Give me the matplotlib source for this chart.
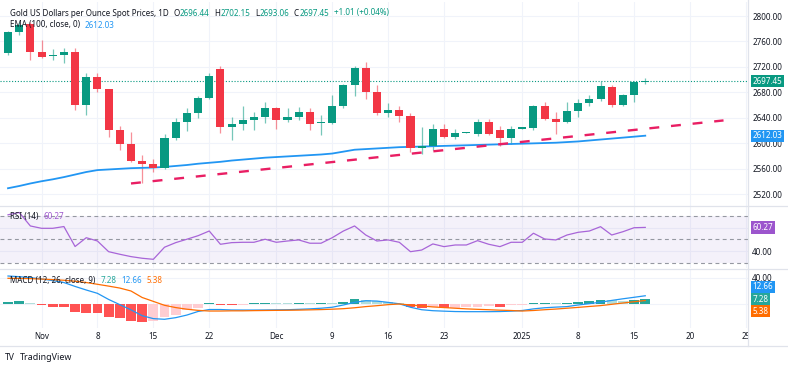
import numpy as np
import matplotlib
matplotlib.use("Agg")
import matplotlib.pyplot as plt
from matplotlib.lines import Line2D
from matplotlib.transforms import Bbox, TransformedBbox

plt.rcParams['font.family'] = ['Noto Sans', 'DejaVu Sans']

# daily bars, Oct 29 2024 -> Jan 16 2025 (bar index = trading day)
opens = [2742, 2775, 2787, 2744, 2736.5, 2738, 2743, 2660, 2704, 2685,
         2621, 2599, 2573, 2567, 2562, 2609, 2633, 2648, 2671, 2716,
         2625, 2631, 2637, 2641, 2655, 2637, 2642, 2650, 2632, 2632,
         2658, 2692, 2718, 2680, 2648, 2652, 2643, 2592, 2596, 2623,
         2610, 2617, 2615, 2634, 2621, 2608, 2623, 2624, 2659, 2639,
         2634, 2651, 2663, 2669, 2689, 2660, 2676, 2696.44]
highs = [2777, 2790, 2790, 2762, 2748, 2750, 2749, 2711, 2711, 2686,
         2627, 2618, 2582, 2575, 2615, 2640, 2655, 2674, 2711, 2721,
         2641, 2658, 2650, 2665, 2657, 2655, 2657, 2655, 2645, 2676,
         2694, 2721, 2727, 2692, 2663, 2658, 2647, 2626, 2631, 2631,
         2622, 2618, 2639, 2638, 2627, 2627, 2625, 2661, 2665, 2649,
         2665, 2670, 2676, 2698, 2692, 2677, 2698, 2702.15]
lows = [2738, 2770, 2731, 2734, 2731, 2726, 2652, 2645, 2681, 2610,
        2590, 2570, 2538, 2555, 2560, 2605, 2619, 2640, 2669, 2616,
        2605, 2621, 2621, 2632, 2622, 2633, 2637, 2621, 2613, 2630,
        2655, 2674, 2669, 2645, 2642, 2634, 2587, 2583, 2590, 2608,
        2607, 2616, 2612, 2613, 2596, 2599, 2622, 2621, 2636, 2615,
        2632, 2642, 2658, 2666, 2657, 2658, 2665, 2693.06]
closes = [2775, 2786, 2744, 2736, 2738, 2743, 2660, 2704, 2685, 2621,
          2599, 2573, 2567, 2562, 2609, 2633, 2648, 2672, 2706, 2625,
          2631, 2637, 2641, 2655, 2637, 2642, 2649, 2630, 2633, 2658,
          2692, 2718, 2680, 2647, 2652, 2643, 2592, 2596, 2623, 2610,
          2617, 2617.5, 2634, 2615, 2608, 2622, 2625, 2659, 2638, 2634,
          2651, 2663, 2669, 2690, 2660, 2676, 2696, 2697.45]

ema100 = [2529.5, 2533, 2537, 2540.5, 2543.5, 2547, 2551, 2555, 2558, 2559,
          2560, 2561, 2561.5, 2562, 2563, 2564.5, 2566, 2568, 2569.5, 2571,
          2573, 2574.5, 2576, 2577.5, 2578.5, 2579.5, 2580.5, 2581.5, 2582.5, 2584,
          2587, 2590, 2591, 2592, 2593, 2594, 2594.5, 2595, 2595.5, 2596,
          2596.5, 2597, 2597.5, 2598, 2598.5, 2599, 2599.5, 2600, 2600.5, 2601,
          2602, 2603, 2604.5, 2606, 2607.5, 2609, 2610.5, 2612.03]

# hand-drawn support trendline (bar index, price)
trend_x = [11, 64]
trend_y = [2537, 2636]

rsi = [71, 73, 61.5, 59.5, 59.5, 61, 44, 51.5, 48.7, 39.6,
       37.4, 35.4, 34, 33.1, 43.4, 47.3, 50.2, 53.2, 57.2, 45.9,
       47.3, 47.6, 47.6, 50.2, 47.6, 48.7, 49.6, 46.8, 46.8, 51.5,
       57.2, 61.5, 53.8, 48.7, 49.6, 47.6, 39.6, 41, 46.2, 43.9,
       45.3, 45.3, 49, 45.9, 43.9, 47.6, 47.6, 55.3, 50.4, 49.6,
       53.8, 56.1, 57.2, 60.9, 53.8, 56.6, 60, 60.27]

macd = [43, 42, 40.5, 38.5, 36, 33, 27, 21.5, 16.4, 7,
        -1, -9, -18, -22.5, -23.5, -21, -17, -11.5, -8.5, -8.5,
        -9.2, -9.3, -9.3, -9.2, -9, -8.8, -8.2, -7.5, -6.5, -5,
        -1.5, 2.5, 5, 4.5, 2.5, 0.3, -5, -8.8, -10.3, -11,
        -11.6, -11.8, -11.8, -11.8, -11.6, -11, -10, -7.5, -5.8, -4.8,
        -4, -1.5, 0.5, 2.8, 5.5, 8, 10.3, 12.66]
signal = [39.5, 39.3, 39, 38.3, 37.5, 36.5, 35, 33, 30.3, 27.5,
          24.5, 20, 10, 4, -2, -5.5, -8, -9.8, -10.8, -10.8,
          -10.5, -10.5, -10.2, -10, -9.8, -9.6, -9.4, -9, -8.6, -8,
          -7.2, -5.8, -4, -2.6, -1, 0, -1.5, -3, -4.5, -5.5,
          -6.5, -7.5, -8.2, -8.8, -9.5, -10, -10.8, -10, -8.8, -7.8,
          -6.5, -5.2, -3.8, -2.5, -0.5, 1.5, 3.5, 5.38]
hist = [3.5, 4.6, 2, -1.5, -4, -5, -11.8, -13.3, -13.5, -19.5,
        -22, -25.6, -27, -25.6, -20.5, -17, -9.2, -6.6, 1.2, -1,
        -1.5, -0.8, 0.8, 1.5, 1.2, 0.8, 1.5, 1.0, 1.2, 0.8,
        3, 7.7, 6, 4.6, 3, 1.2, -4, -6.6, -4, -6.6,
        -5.5, -5, -4, -3.8, -4, -2, -1.5, 1.5, 2, 1.9,
        2.2, 3.5, 4.6, 6.2, 5.4, 5.2, 6.5, 7.28]

tick_pos = [3, 8, 13, 18, 24, 29, 34, 39, 46, 51, 56, 61, 66]
tick_lab = ['Nov', '8', '15', '22', 'Dec', '9', '16', '23', '2025', '8', '15', '20', '25']

UP = '#089981'
DOWN = '#F23645'
TXT = '#131722'
GRID = '#F0F3FA'
SEP = '#E0E3EB'
BLUE = '#2196F3'
ORANGE = '#FF6D00'
PURPLE = '#9C55CD'
FS = 5.8

W, H = 788, 365
fig = plt.figure(figsize=(W / 100, H / 100), dpi=100)


def box(x0, y0, x1, y1):
    return [x0 / W, 1 - y1 / H, (x1 - x0) / W, (y1 - y0) / H]


ax_p = fig.add_axes(box(0, 2, 748, 205.5))
ax_r = fig.add_axes(box(0, 206, 748, 268))
ax_m = fig.add_axes(box(0, 269, 748, 328))

x = np.arange(len(closes))
xlim = (-8 / 11.18, 740 / 11.18)

for ax in (ax_p, ax_r, ax_m):
    ax.set_xlim(*xlim)
    for s in ax.spines.values():
        s.set_visible(False)
    ax.yaxis.tick_right()
    ax.tick_params(axis='y', length=0, pad=3, labelsize=FS, labelcolor=TXT)
    ax.tick_params(axis='x', length=0)
    ax.set_xticks(tick_pos)
    ax.grid(True, color=GRID, lw=0.8)
    ax.set_axisbelow(True)
ax_p.set_xticklabels([])
ax_r.set_xticklabels([])

# ---- price panel
o = np.array(opens); c = np.array(closes)
cols = np.where(c >= o, UP, DOWN)
ax_p.vlines(x, lows, highs, colors=cols, lw=0.9, alpha=0.55, zorder=2)
body = np.maximum(np.abs(c - o), 0.6)
ax_p.bar(x, body, bottom=np.minimum(o, c), width=0.72, color=cols, zorder=3)
ax_p.plot(x, ema100, color=BLUE, lw=1.3, zorder=2.5)
ax_p.plot(trend_x, trend_y, color='#E91E63', lw=1.7, dashes=(4.2, 5.0), zorder=2.6)
ax_p.axhline(closes[-1], color=UP, lw=0.8, ls=(0, (1, 1.6)), zorder=1.5)
ax_p.set_ylim(2502.4, 2822)
p_ticks = np.arange(2520, 2801, 40)
ax_p.set_yticks(p_ticks)
ax_p.set_yticklabels([f"{v:.2f}" for v in p_ticks])

# ---- RSI panel
ax_r.axhspan(30, 70, color='#7E57C2', alpha=0.08, lw=0)
for lv in (70, 50, 30):
    ax_r.axhline(lv, color='#9598A1', lw=0.8, ls=(0, (3.5, 3)))
ax_r.plot(x, rsi, color='#A865D8', lw=0.9)
ax_r.set_ylim(25.7, 78.5)
ax_r.set_yticks([40, 60])
ax_r.set_yticklabels(['40.00', ''])   # 60.00 sits under the value box

# ---- MACD panel
hcols = []
for i, h in enumerate(hist):
    prev = hist[i - 1] if i > 0 else 0
    if h >= 0:
        hcols.append('#26A69A' if h > prev else '#B2DFDB')
    else:
        hcols.append('#FF5252' if h < prev else '#FFCDD2')
ax_m.bar(x, hist, width=0.88, color=hcols, zorder=2)
ax_m.plot(x, macd, color=BLUE, lw=0.9, zorder=3)
ax_m.plot(x, signal, color=ORANGE, lw=0.9, zorder=3)
ax_m.set_ylim(-36.9, 53.8)
ax_m.set_yticks([0, 40])
ax_m.set_yticklabels(['', '40.00'])   # 0.00 sits under the value boxes
ax_m.set_xticklabels(tick_lab)
ax_m.tick_params(axis='x', pad=3, labelsize=FS, labelcolor=TXT)
clip = TransformedBbox(Bbox([[0, 0], [748 / W, 1]]), fig.transFigure)
for lbl in ax_m.get_xticklabels():
    if lbl.get_text() == '2025':
        lbl.set_fontweight('bold')
    lbl.set_clip_box(clip)
    lbl.set_clip_on(True)


# ---- value boxes on the right scale
def tag(ax, val, txt, fc, dy=0):
    ax.annotate(txt, xy=(1, val), xycoords=('axes fraction', 'data'),
                xytext=(3.3, dy), textcoords='offset points', ha='left', va='center',
                fontsize=FS, color='white', annotation_clip=False, zorder=10,
                bbox=dict(boxstyle='square,pad=0.2', fc=fc, ec='none'))


tag(ax_p, closes[-1], '2697.45', UP)
tag(ax_p, ema100[-1], '2612.03', BLUE)
tag(ax_r, rsi[-1], '60.27', PURPLE)
tag(ax_m, macd[-1], '12.66', BLUE, dy=6.4)
tag(ax_m, hist[-1], '7.28', '#26A69A')
tag(ax_m, signal[-1], '5.38', ORANGE, dy=-7.6)


# ---- legends at top-left of each pane
def legend_line(ax, y_px, parts):
    t = fig.text(10 / W, 1 - y_px / H, parts[0][0], color=parts[0][1],
                 fontsize=FS, va='center', ha='left')
    for txt, col, gap in parts[1:]:
        t = ax.annotate(txt, xy=(1, 0.5), xycoords=t, xytext=(gap, 0),
                        textcoords='offset points', va='center', ha='left',
                        fontsize=FS, color=col)


legend_line(ax_p, 13, [("Gold US Dollars per Ounce Spot Prices, 1D", TXT),
                       ("O", TXT, 3.5), ("2696.44", UP, 0),
                       ("H", TXT, 3.5), ("2702.15", UP, 0),
                       ("L", TXT, 3.5), ("2693.06", UP, 0),
                       ("C", TXT, 3.5), ("2697.45", UP, 0),
                       ("+1.01 (+0.04%)", UP, 3.5)])
legend_line(ax_p, 25, [("EMA (100, close, 0)", TXT), ("2612.03", BLUE, 3.5)])
legend_line(ax_r, 216.5, [("RSI (14)", TXT), ("60.27", PURPLE, 3.5)])
legend_line(ax_m, 280.5, [("MACD (12, 26, close, 9)", TXT), ("7.28", '#26A69A', 3.5),
                          ("12.66", BLUE, 3.5), ("5.38", ORANGE, 3.5)])

# ---- pane separators
for yy in (205.5, 268.5, 345.5):
    fig.add_artist(Line2D([0, 1], [1 - yy / H] * 2, color=SEP, lw=0.9))
fig.add_artist(Line2D([748 / W] * 2, [1 - 345.5 / H, 1], color=SEP, lw=0.9))

# ---- footer
fig.text(5 / W, 1 - 357 / H, "TV", fontsize=6.2, fontweight='bold', color=TXT,
         va='center', ha='left')
fig.text(20 / W, 1 - 357 / H, "TradingView", fontsize=6.4, color=TXT,
         va='center', ha='left')

fig.savefig("out.png", dpi=100, facecolor='white')
